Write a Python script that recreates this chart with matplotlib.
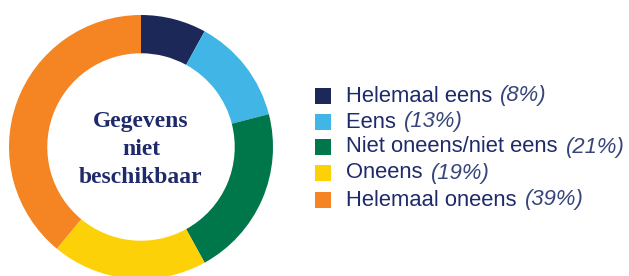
import matplotlib.pyplot as plt
from matplotlib.patches import Rectangle

# ---------- data ----------
labels = ["Helemaal eens", "Eens", "Niet oneens/niet eens", "Oneens", "Helemaal oneens"]
values = [8, 13, 21, 19, 39]
colors = ["#1b2858", "#41b5e5", "#00774a", "#fdd108", "#f58423"]
center_text = "Gegevens\nniet\nbeschikbaar"

W, H = 629, 276
navy = "#1f2a6b"
pct_color = "#36457a"

fig = plt.figure(figsize=(W / 100, H / 100), dpi=100)

# ---------- donut ----------
cx, cy, r = 141, 276 - 147, 132
ax = fig.add_axes([(cx - r) / W, (cy - r) / H, 2 * r / W, 2 * r / H])
ax.pie(values, colors=colors, startangle=90, counterclock=False, radius=1,
       wedgeprops=dict(width=0.29, edgecolor="none"))
ax.set_xlim(-1, 1)
ax.set_ylim(-1, 1)
ax.set_aspect("equal")
ax.axis("off")
ax.text(0, -0.02, center_text, ha="center", va="center", color=navy,
        fontsize=17, fontweight="bold", family="Liberation Serif", linespacing=1.42)

# ---------- legend ----------
row_y = [96, 122, 147, 173, 200]
sq = 16
for lab, val, col, y in zip(labels, values, colors, row_y):
    fig.patches.append(Rectangle((315 / W, (H - y - sq / 2) / H), sq / W, sq / H,
                                 transform=fig.transFigure, facecolor=col,
                                 edgecolor="none"))
    t = fig.text(346 / W, (H - y) / H, lab + " ", ha="left", va="center",
                 color=navy, fontsize=15.8, family="Liberation Sans")
    ax.annotate(f"({val}%)", xy=(1, 0), xycoords=t, xytext=(2, 0),
                textcoords="offset pixels", ha="left", va="bottom",
                color=pct_color, fontsize=15.8, style="italic",
                family="Liberation Sans", annotation_clip=False)

fig.savefig("out.png", dpi=100)
